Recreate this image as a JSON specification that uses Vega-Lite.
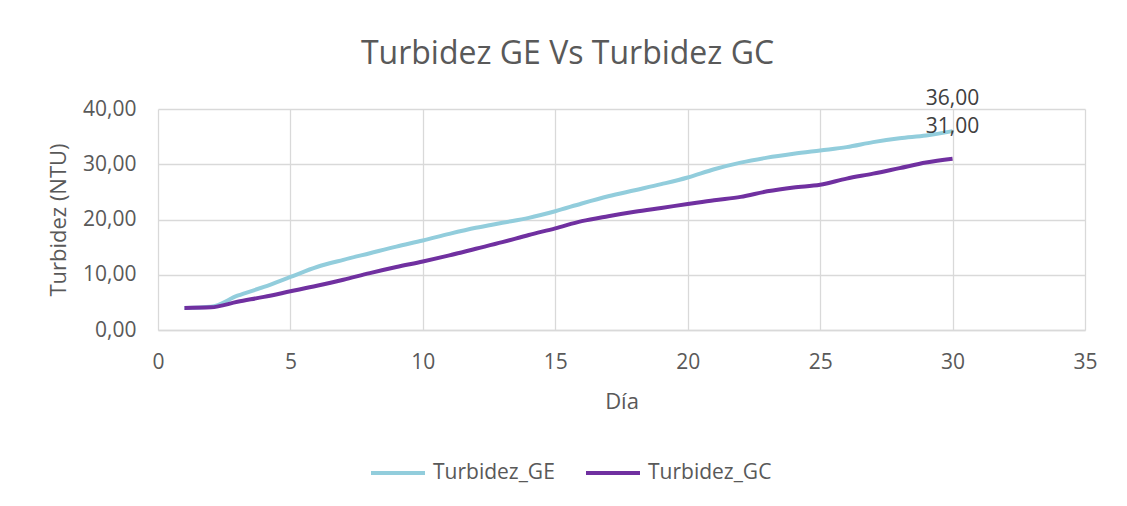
{
  "$schema": "https://vega.github.io/schema/vega-lite/v6.json",
  "width": 927,
  "height": 221,
  "autosize": {"type": "none"},
  "padding": {"left": 158, "top": 109, "right": 42, "bottom": 176},
  "background": "white",
  "title": {
    "text": "Turbidez GE Vs Turbidez GC",
    "font": "Open Sans",
    "fontSize": 32,
    "fontWeight": "normal",
    "color": "#595959",
    "anchor": "middle",
    "dx": -54,
    "baseline": "alphabetic",
    "offset": -8
  },
  "config": {
    "locale": {"number": {"decimal": ",", "thousands": ".", "grouping": [3], "currency": ["", " €"]}},
    "view": {"stroke": null},
    "font": "Open Sans",
    "axis": {
      "labelFont": "Open Sans",
      "titleFont": "Open Sans",
      "labelColor": "#595959",
      "titleColor": "#595959",
      "gridColor": "#D9D9D9",
      "gridWidth": 1.3,
      "ticks": false,
      "titleFontWeight": "normal"
    }
  },
  "data": {
    "values": [
      {"dia": 1, "serie": "Turbidez_GE", "valor": 4.0},
      {"dia": 2, "serie": "Turbidez_GE", "valor": 4.2},
      {"dia": 3, "serie": "Turbidez_GE", "valor": 6.2},
      {"dia": 4, "serie": "Turbidez_GE", "valor": 7.8},
      {"dia": 5, "serie": "Turbidez_GE", "valor": 9.6},
      {"dia": 6, "serie": "Turbidez_GE", "valor": 11.4},
      {"dia": 7, "serie": "Turbidez_GE", "valor": 12.7},
      {"dia": 8, "serie": "Turbidez_GE", "valor": 13.9},
      {"dia": 9, "serie": "Turbidez_GE", "valor": 15.1},
      {"dia": 10, "serie": "Turbidez_GE", "valor": 16.2},
      {"dia": 11, "serie": "Turbidez_GE", "valor": 17.4},
      {"dia": 12, "serie": "Turbidez_GE", "valor": 18.5},
      {"dia": 13, "serie": "Turbidez_GE", "valor": 19.4},
      {"dia": 14, "serie": "Turbidez_GE", "valor": 20.3},
      {"dia": 15, "serie": "Turbidez_GE", "valor": 21.5},
      {"dia": 16, "serie": "Turbidez_GE", "valor": 22.9},
      {"dia": 17, "serie": "Turbidez_GE", "valor": 24.2},
      {"dia": 18, "serie": "Turbidez_GE", "valor": 25.3},
      {"dia": 19, "serie": "Turbidez_GE", "valor": 26.4},
      {"dia": 20, "serie": "Turbidez_GE", "valor": 27.6},
      {"dia": 21, "serie": "Turbidez_GE", "valor": 29.1},
      {"dia": 22, "serie": "Turbidez_GE", "valor": 30.3},
      {"dia": 23, "serie": "Turbidez_GE", "valor": 31.2},
      {"dia": 24, "serie": "Turbidez_GE", "valor": 31.9},
      {"dia": 25, "serie": "Turbidez_GE", "valor": 32.5},
      {"dia": 26, "serie": "Turbidez_GE", "valor": 33.1},
      {"dia": 27, "serie": "Turbidez_GE", "valor": 34.0},
      {"dia": 28, "serie": "Turbidez_GE", "valor": 34.7},
      {"dia": 29, "serie": "Turbidez_GE", "valor": 35.2},
      {"dia": 30, "serie": "Turbidez_GE", "valor": 36.0},
      {"dia": 1, "serie": "Turbidez_GC", "valor": 4.0},
      {"dia": 2, "serie": "Turbidez_GC", "valor": 4.1},
      {"dia": 3, "serie": "Turbidez_GC", "valor": 5.1},
      {"dia": 4, "serie": "Turbidez_GC", "valor": 6.0},
      {"dia": 5, "serie": "Turbidez_GC", "valor": 7.0},
      {"dia": 6, "serie": "Turbidez_GC", "valor": 8.0},
      {"dia": 7, "serie": "Turbidez_GC", "valor": 9.1},
      {"dia": 8, "serie": "Turbidez_GC", "valor": 10.3},
      {"dia": 9, "serie": "Turbidez_GC", "valor": 11.4},
      {"dia": 10, "serie": "Turbidez_GC", "valor": 12.4},
      {"dia": 11, "serie": "Turbidez_GC", "valor": 13.5},
      {"dia": 12, "serie": "Turbidez_GC", "valor": 14.7},
      {"dia": 13, "serie": "Turbidez_GC", "valor": 15.9},
      {"dia": 14, "serie": "Turbidez_GC", "valor": 17.2},
      {"dia": 15, "serie": "Turbidez_GC", "valor": 18.4},
      {"dia": 16, "serie": "Turbidez_GC", "valor": 19.7},
      {"dia": 17, "serie": "Turbidez_GC", "valor": 20.6},
      {"dia": 18, "serie": "Turbidez_GC", "valor": 21.4},
      {"dia": 19, "serie": "Turbidez_GC", "valor": 22.1},
      {"dia": 20, "serie": "Turbidez_GC", "valor": 22.8},
      {"dia": 21, "serie": "Turbidez_GC", "valor": 23.5},
      {"dia": 22, "serie": "Turbidez_GC", "valor": 24.1},
      {"dia": 23, "serie": "Turbidez_GC", "valor": 25.1},
      {"dia": 24, "serie": "Turbidez_GC", "valor": 25.8},
      {"dia": 25, "serie": "Turbidez_GC", "valor": 26.3},
      {"dia": 26, "serie": "Turbidez_GC", "valor": 27.4},
      {"dia": 27, "serie": "Turbidez_GC", "valor": 28.3},
      {"dia": 28, "serie": "Turbidez_GC", "valor": 29.3},
      {"dia": 29, "serie": "Turbidez_GC", "valor": 30.3},
      {"dia": 30, "serie": "Turbidez_GC", "valor": 31.0}
    ]
  },
  "encoding": {
    "x": {
      "field": "dia",
      "type": "quantitative",
      "scale": {"domain": [0, 35], "nice": false},
      "axis": {
        "title": "Día",
        "values": [0, 5, 10, 15, 20, 25, 30, 35],
        "labelFontSize": 21,
        "titleFontSize": 22,
        "labelPadding": 21,
        "titlePadding": 19,
        "domainColor": "#D9D9D9",
        "domainWidth": 1.5,
        "labelFlush": false
      }
    },
    "y": {
      "field": "valor",
      "type": "quantitative",
      "scale": {"domain": [0, 40], "nice": false},
      "axis": {
        "title": "Turbidez (NTU)",
        "values": [0, 10, 20, 30, 40],
        "format": ".2f",
        "labelFontSize": 21,
        "titleFontSize": 22,
        "labelPadding": 22,
        "titlePadding": 12,
        "domain": false,
        "labelFlush": false
      }
    },
    "color": {
      "field": "serie",
      "type": "nominal",
      "scale": {"domain": ["Turbidez_GE", "Turbidez_GC"], "range": ["#92CDDC", "#7030A0"]},
      "legend": {
        "title": null,
        "orient": "none",
        "direction": "horizontal",
        "legendX": 211,
        "legendY": 335,
        "symbolType": "stroke",
        "symbolSize": 2916,
        "symbolStrokeWidth": 4,
        "labelFont": "Open Sans",
        "labelFontSize": 21,
        "labelColor": "#595959",
        "labelOffset": 6,
        "columnPadding": 23
      }
    }
  },
  "layer": [
    {
      "mark": {"type": "line", "strokeWidth": 4, "interpolate": "monotone"}
    },
    {
      "transform": [{"filter": "datum.dia == 30"}],
      "mark": {"type": "text", "dy": -32, "baseline": "middle", "fontSize": 21, "font": "Open Sans", "color": "#404040"},
      "encoding": {
        "text": {"field": "valor", "type": "quantitative", "format": ".2f"},
        "color": {"value": "#404040"}
      }
    }
  ]
}
